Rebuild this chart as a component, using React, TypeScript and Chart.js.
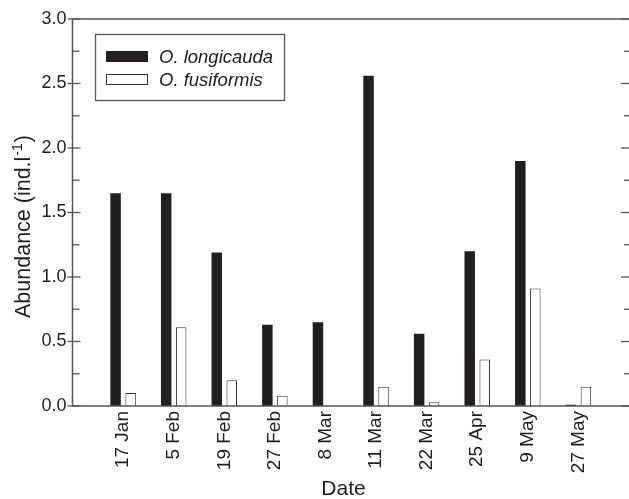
import React, { useEffect, useRef } from "react";
import { Chart, registerables } from "chart.js";

Chart.register(...registerables);

const categories = ["17 Jan", "5 Feb", "19 Feb", "27 Feb", "8 Mar", "11 Mar", "22 Mar", "25 Apr", "9 May", "27 May"];
const longicauda = [1.65, 1.65, 1.19, 0.63, 0.65, 2.56, 0.56, 1.2, 1.9, 0.01];
const fusiformis = [0.1, 0.61, 0.2, 0.08, 0, 0.15, 0.03, 0.36, 0.91, 0.15];
const seriesNames = ["O. longicauda", "O. fusiformis"];
const yTickValues = [0, 0.5, 1, 1.5, 2, 2.5, 3];
const yMinorValues = [0.25, 0.75, 1.25, 1.75, 2.25, 2.75];
const yTitleMain = "Abundance (ind.l";
const yTitleSup = "-1";
const yTitleEnd = ")";
const xTitle = "Date";

const FONT = "'Liberation Sans', Arial, Helvetica, sans-serif";
const INK = "#1e1e1e";
const AXIS = "#555";
const BLACK = "#231f20";

const framePlugin = {
  id: "frame",
  afterDatasetsDraw(chart: any) {
    const { ctx, chartArea: a, scales } = chart;
    const ys = scales.y;
    const line = (x1: number, y1: number, x2: number, y2: number) => {
      ctx.beginPath();
      ctx.moveTo(x1, y1);
      ctx.lineTo(x2, y2);
      ctx.stroke();
    };
    ctx.save();
    ctx.strokeStyle = AXIS;
    ctx.lineWidth = 1.5;
    ctx.beginPath();
    ctx.moveTo(a.right + 2, a.top);
    ctx.lineTo(a.left, a.top);
    ctx.lineTo(a.left, a.bottom);
    ctx.lineTo(a.right + 2, a.bottom);
    ctx.stroke();

    ctx.lineWidth = 1.3;
    yTickValues.forEach((v) => {
      const p = ys.getPixelForValue(v);
      line(a.left - 5, p, a.left + 8, p);
      line(a.right - 8, p, a.right + 2, p);
    });
    yMinorValues.forEach((v) => {
      const p = ys.getPixelForValue(v);
      line(a.left, p, a.left + 7, p);
      line(a.right - 5, p, a.right + 2, p);
    });

    // legend
    const ds = chart.data.datasets;
    ctx.lineWidth = 1.3;
    ctx.strokeStyle = AXIS;
    ctx.strokeRect(95.5, 34.5, 189, 66);
    const rows = [56.5, 79.5];
    ds.forEach((d: any, i: number) => {
      const cy = rows[i];
      ctx.fillStyle = d.backgroundColor;
      ctx.fillRect(106, cy - 5.5, 42, 11);
      if (d.borderWidth) {
        ctx.strokeStyle = d.borderColor;
        ctx.lineWidth = 1;
        ctx.strokeRect(106.5, cy - 5, 41, 10);
      }
      ctx.fillStyle = INK;
      ctx.font = `italic 18.5px ${FONT}`;
      ctx.textAlign = "left";
      ctx.textBaseline = "middle";
      ctx.fillText(d.label, 159, cy + 1);
    });

    // y title (rotated), with superscript
    ctx.fillStyle = INK;
    ctx.save();
    ctx.translate(24, 318);
    ctx.rotate(-Math.PI / 2);
    ctx.textAlign = "left";
    ctx.textBaseline = "middle";
    ctx.font = `21.5px ${FONT}`;
    ctx.fillText(yTitleMain, 0, 0);
    let w = ctx.measureText(yTitleMain).width + 1;
    ctx.font = `14px ${FONT}`;
    ctx.fillText(yTitleSup, w, -6);
    w += ctx.measureText(yTitleSup).width + 1;
    ctx.font = `21.5px ${FONT}`;
    ctx.fillText(yTitleEnd, w, 0);
    ctx.restore();

    ctx.font = `21px ${FONT}`;
    ctx.textAlign = "center";
    ctx.textBaseline = "alphabetic";
    ctx.fillText(xTitle, 343.5, 495);
    ctx.restore();
  },
};

export default function App() {
  const ref = useRef<HTMLCanvasElement>(null);
  useEffect(() => {
    if (!ref.current) return;
    Chart.defaults.font.family = FONT;
    const chart = new Chart(ref.current, {
      type: "bar",
      data: {
        datasets: [
          {
            label: seriesNames[0],
            data: categories.map((_, i) => ({ x: i + 1, y: longicauda[i] })),
            backgroundColor: BLACK,
            borderWidth: 0,
          },
          {
            label: seriesNames[1],
            data: categories.map((_, i) => ({ x: i + 1, y: fusiformis[i] })),
            backgroundColor: "#ffffff",
            borderColor: "#333",
            borderWidth: 1,
          },
        ],
      },
      options: {
        animation: false,
        responsive: false,
        devicePixelRatio: 1,
        categoryPercentage: 0.593,
        barPercentage: 0.7,
        layout: { padding: { left: 0, right: 0, top: 19, bottom: 0 } },
        plugins: { legend: { display: false }, tooltip: { enabled: false } },
        scales: {
          x: {
            type: "linear",
            min: 0,
            max: 11,
            offset: false,
            grid: { display: false, drawTicks: false },
            border: { display: false },
            afterBuildTicks: (s: any) => {
              s.ticks = categories.map((_, i) => ({ value: i + 1 }));
            },
            afterFit: (s: any) => {
              s.height = 93;
            },
            ticks: {
              autoSkip: false,
              maxRotation: 90,
              minRotation: 90,
              padding: 5,
              color: INK,
              font: { size: 19, family: FONT },
              callback: (v: any) => categories[Math.round(v) - 1] ?? "",
            },
          },
          y: {
            type: "linear",
            min: 0,
            max: 3,
            grid: { display: false, drawTicks: false },
            border: { display: false },
            afterBuildTicks: (s: any) => {
              s.ticks = yTickValues.map((v) => ({ value: v }));
            },
            afterFit: (s: any) => {
              s.width = 72.5;
            },
            ticks: {
              padding: 6,
              color: INK,
              font: { size: 18, family: FONT },
              callback: (v: any) => Number(v).toFixed(1),
            },
          },
        },
      } as any,
      plugins: [framePlugin],
    });
    return () => chart.destroy();
  }, []);
  return (
    <div style={{ position: "fixed", left: 0, top: 0, width: 629, height: 499, overflow: "hidden", background: "#fff" }}>
      <canvas ref={ref} width={629} height={499} style={{ display: "block" }} />
    </div>
  );
}
